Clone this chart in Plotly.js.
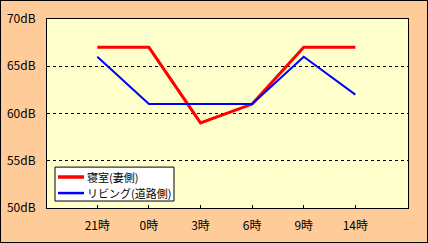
<!DOCTYPE html>
<html><head><meta charset="utf-8">
<script src="https://cdn.plot.ly/plotly-3.0.1.min.js"></script>
<style>html,body{margin:0;padding:0;background:#fff}#c{width:426px;height:241px;border:1px solid #000;}</style>
</head><body><div id="c"></div>
<script>
const categories = ["21時","0時","3時","6時","9時","14時"];
const bedroom = [67, 67, 59, 61, 67, 67];
const living = [66, 61, 61, 61, 66, 62];
const seriesNames = ["寝室(妻側)", "リビング(道路側)"];
const colors = ['#ff0000', '#0000ff'];
const widths = [3, 2];
const font = "'MS PGothic','Noto Sans CJK JP',sans-serif";
const idx = categories.map((c,i)=>i);
const series = [bedroom, living];
const traces = series.map((s,i)=>({x: idx, y: s, name: seriesNames[i], mode: 'lines', line: {color: colors[i], width: widths[i]}}));
// custom legend (paper coords)
const legY = [0.164, 0.079];
const shapes = [{type:'rect', xref:'paper', yref:'paper', x0:0.0222, x1:0.3518, y0:0.0369, y1:0.2164, fillcolor:'#ffffff', line:{color:'#000', width:1}, layer:'above'}];
const annotations = [];
seriesNames.forEach((n,i)=>{
  shapes.push({type:'line', xref:'paper', yref:'paper', x0:0.0305, x1:0.1025, y0:legY[i], y1:legY[i], line:{color:colors[i], width:widths[i]+0.5}, layer:'above'});
  annotations.push({xref:'paper', yref:'paper', x:0.104, y:legY[i], xanchor:'left', yanchor:'middle', text:n, showarrow:false, font:{size:11}});
});
Plotly.newPlot('c', traces, {
  width: 426, height: 241,
  margin: {l: 46, r: 19, t: 18, b: 34, pad: 0},
  paper_bgcolor: '#ffcc99', plot_bgcolor: '#ffffcc',
  font: {family: font, size: 12, color: '#000'},
  showlegend: false, shapes: shapes, annotations: annotations,
  xaxis: {range: [-0.975, 6.02], tickvals: idx, ticktext: categories, showgrid: false, zeroline: false, ticklabelstandoff: 7,
    ticks: 'inside', ticklen: 3, tickcolor: '#000', showline: true, linecolor: '#000', linewidth: 1, mirror: true, fixedrange: true},
  yaxis: {range: [50, 70], dtick: 5, ticksuffix: 'dB', showgrid: true, gridcolor: '#000', griddash: '3px,3px', gridwidth: 1, ticklabelstandoff: 8,
    zeroline: false, ticks: '', showline: true, linecolor: '#000', linewidth: 1, mirror: true, fixedrange: true}
}, {displayModeBar: false, staticPlot: true});
</script></body></html>
